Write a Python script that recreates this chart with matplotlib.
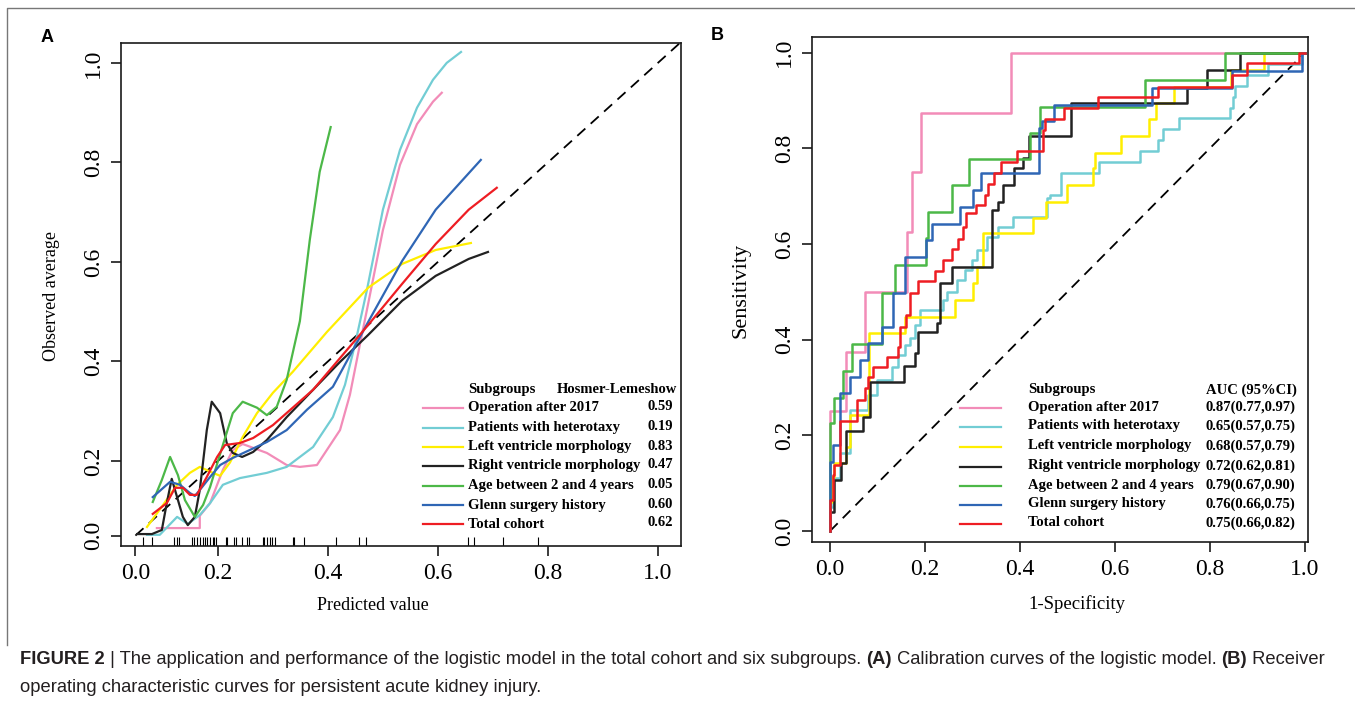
import numpy as np
import matplotlib
matplotlib.use('Agg')
import matplotlib.pyplot as plt
from matplotlib.lines import Line2D

W, H = 1355, 704
SERIF = ['Liberation Serif', 'DejaVu Serif']
SANS = ['Liberation Sans Narrow', 'Liberation Sans', 'DejaVu Sans']

# ---------------- data ----------------
subgroups = ["Operation after 2017", "Patients with heterotaxy", "Left ventricle morphology",
             "Right ventricle morphology", "Age between 2 and 4 years", "Glenn surgery history",
             "Total cohort"]
colors = ['#F28CB8', '#72CDD4', '#FFEE00', '#222222', '#4CB848', '#2F66B5', '#EE1D23']
hl_pvalues = ["0.59", "0.19", "0.83", "0.47", "0.05", "0.60", "0.62"]
auc_text = ["0.87(0.77,0.97)", "0.65(0.57,0.75)", "0.68(0.57,0.79)", "0.72(0.62,0.81)",
            "0.79(0.67,0.90)", "0.76(0.66,0.75)", "0.75(0.66,0.82)"]

# calibration curves (predicted, observed)
cal_op_x = [0.052, 0.156, 0.156, 0.181, 0.209, 0.227, 0.245, 0.289, 0.325, 0.349, 0.380, 0.422,
            0.440, 0.458, 0.471, 0.500, 0.531, 0.562, 0.591, 0.607]
cal_op_y = [0.020, 0.020, 0.053, 0.087, 0.176, 0.222, 0.234, 0.216, 0.189, 0.184, 0.189, 0.262,
            0.333, 0.433, 0.504, 0.664, 0.795, 0.877, 0.922, 0.940]
cal_het_x = [0.028, 0.059, 0.101, 0.127, 0.156, 0.181, 0.209, 0.240, 0.289, 0.325, 0.373, 0.409,
             0.431, 0.449, 0.471, 0.500, 0.531, 0.562, 0.591, 0.616, 0.642]
cal_het_y = [0.002, 0.002, 0.050, 0.031, 0.055, 0.087, 0.136, 0.154, 0.168, 0.184, 0.228, 0.288,
             0.353, 0.433, 0.544, 0.705, 0.825, 0.910, 0.966, 1.000, 1.022]
cal_lv_x = [0.028, 0.067, 0.101, 0.132, 0.156, 0.188, 0.204, 0.222, 0.245, 0.271, 0.300, 0.336,
            0.398, 0.473, 0.535, 0.596, 0.660]
cal_lv_y = [0.023, 0.082, 0.136, 0.168, 0.184, 0.168, 0.160, 0.196, 0.248, 0.296, 0.337, 0.379,
            0.459, 0.548, 0.596, 0.624, 0.638]
cal_rv_x = [0.004, 0.040, 0.064, 0.076, 0.088, 0.101, 0.115, 0.127, 0.144, 0.156, 0.173, 0.185,
            0.204, 0.216, 0.227, 0.244, 0.264, 0.289, 0.325, 0.373, 0.422, 0.473, 0.535, 0.596,
            0.656, 0.691]
cal_rv_y = [0.004, 0.004, 0.015, 0.087, 0.152, 0.103, 0.050, 0.028, 0.050, 0.122, 0.262, 0.319,
            0.296, 0.236, 0.216, 0.208, 0.218, 0.242, 0.288, 0.343, 0.399, 0.453, 0.522, 0.572,
            0.606, 0.620]
cal_age_x = [0.042, 0.064, 0.084, 0.103, 0.120, 0.144, 0.164, 0.181, 0.209, 0.227, 0.245, 0.271,
             0.289, 0.307, 0.325, 0.349, 0.367, 0.385, 0.405]
cal_age_y = [0.090, 0.149, 0.208, 0.162, 0.095, 0.050, 0.082, 0.130, 0.232, 0.296, 0.319, 0.307,
             0.292, 0.309, 0.363, 0.481, 0.644, 0.781, 0.871]
cal_glenn_x = [0.042, 0.084, 0.108, 0.132, 0.144, 0.156, 0.181, 0.204, 0.227, 0.258, 0.289, 0.325,
               0.362, 0.409, 0.473, 0.535, 0.596, 0.678]
cal_glenn_y = [0.103, 0.144, 0.136, 0.114, 0.106, 0.122, 0.157, 0.189, 0.206, 0.222, 0.238, 0.262,
               0.303, 0.349, 0.479, 0.602, 0.705, 0.805]
cal_total_x = [0.042, 0.076, 0.096, 0.115, 0.132, 0.149, 0.173, 0.198, 0.213, 0.240, 0.264, 0.300,
               0.336, 0.373, 0.473, 0.535, 0.596, 0.656, 0.707]
cal_total_y = [0.058, 0.087, 0.128, 0.128, 0.109, 0.109, 0.157, 0.208, 0.232, 0.236, 0.246, 0.272,
               0.307, 0.343, 0.473, 0.556, 0.636, 0.705, 0.749]
# rug of predicted values
rug_x = [0.018, 0.040, 0.093, 0.101, 0.105, 0.137, 0.142, 0.149, 0.156, 0.164, 0.168, 0.173,
         0.181, 0.188, 0.190, 0.195, 0.215, 0.216, 0.229, 0.233, 0.244, 0.253, 0.256, 0.282,
         0.284, 0.289, 0.295, 0.298, 0.304, 0.336, 0.338, 0.356, 0.415, 0.456, 0.469, 0.655,
         0.665, 0.718, 0.782]

# ROC curves (1-specificity, sensitivity), one point per step
roc_op_fpr = [0, 0.034, 0.074, 0.162, 0.173, 0.192, 0.381, 1.0]
roc_op_tpr = [0, 0.25, 0.375, 0.5, 0.625, 0.75, 0.875, 1.0]
roc_het_fpr = [0, 0.006, 0.021, 0.042, 0.080, 0.099, 0.131, 0.143, 0.158, 0.168, 0.179, 0.189,
               0.238, 0.246, 0.267, 0.284, 0.299, 0.309, 0.331, 0.354, 0.385, 0.457, 0.463, 0.486,
               0.566, 0.653, 0.691, 0.701, 0.735, 0.842, 0.848, 0.853, 0.878, 0.922, 0.994, 1.0]
roc_het_tpr = [0, 0.050, 0.111, 0.163, 0.253, 0.285, 0.316, 0.343, 0.368, 0.389, 0.404, 0.431,
               0.462, 0.483, 0.5, 0.525, 0.546, 0.567, 0.588, 0.615, 0.636, 0.657, 0.697, 0.703,
               0.749, 0.772, 0.795, 0.818, 0.841, 0.864, 0.885, 0.908, 0.931, 0.954, 0.977, 1.0]
roc_lv_fpr = [0, 0.004, 0.008, 0.034, 0.042, 0.082, 0.158, 0.263, 0.301, 0.309, 0.322, 0.427,
              0.455, 0.499, 0.554, 0.558, 0.613, 0.672, 0.686, 0.724, 0.844, 0.914, 1.0]
roc_lv_tpr = [0, 0.06, 0.113, 0.142, 0.176, 0.243, 0.414, 0.448, 0.483, 0.519, 0.552, 0.623,
              0.655, 0.688, 0.724, 0.759, 0.791, 0.826, 0.862, 0.895, 0.929, 0.964, 1.0]
roc_rv_fpr = [0, 0.008, 0.023, 0.034, 0.069, 0.084, 0.156, 0.179, 0.185, 0.225, 0.232, 0.257,
              0.341, 0.354, 0.364, 0.387, 0.406, 0.419, 0.507, 0.752, 0.794, 0.863, 1.0]
roc_rv_tpr = [0, 0.04, 0.107, 0.142, 0.209, 0.238, 0.312, 0.345, 0.372, 0.416, 0.435, 0.519,
              0.552, 0.672, 0.688, 0.724, 0.759, 0.780, 0.826, 0.895, 0.927, 0.964, 1.0]
roc_age_fpr = [0, 0.008, 0.027, 0.046, 0.109, 0.137, 0.202, 0.206, 0.257, 0.293, 0.421, 0.442,
               0.663, 0.832, 1.0]
roc_age_tpr = [0, 0.226, 0.278, 0.335, 0.391, 0.498, 0.556, 0.613, 0.667, 0.724, 0.778, 0.833,
               0.887, 0.944, 1.0]
roc_glenn_fpr = [0, 0.006, 0.021, 0.042, 0.063, 0.080, 0.109, 0.133, 0.158, 0.202, 0.215, 0.274,
                 0.301, 0.318, 0.440, 0.446, 0.472, 0.678, 0.846, 0.994, 1.0]
roc_glenn_tpr = [0, 0.144, 0.180, 0.289, 0.322, 0.358, 0.393, 0.427, 0.498, 0.573, 0.609, 0.642,
                 0.678, 0.713, 0.749, 0.843, 0.858, 0.891, 0.927, 0.962, 1.0]
roc_total_fpr = [0, 0.006, 0.008, 0.021, 0.057, 0.074, 0.080, 0.091, 0.120, 0.143, 0.147, 0.160,
                 0.168, 0.185, 0.221, 0.238, 0.257, 0.269, 0.280, 0.286, 0.307, 0.326, 0.333,
                 0.345, 0.360, 0.394, 0.448, 0.453, 0.493, 0.564, 0.691, 0.846, 0.878, 0.989, 1.0]
roc_total_tpr = [0, 0.065, 0.117, 0.138, 0.230, 0.274, 0.299, 0.322, 0.343, 0.364, 0.385, 0.427,
                 0.452, 0.498, 0.523, 0.544, 0.567, 0.590, 0.611, 0.636, 0.665, 0.682, 0.703,
                 0.726, 0.749, 0.772, 0.795, 0.839, 0.862, 0.885, 0.908, 0.929, 0.954, 0.979, 1.0]

cal_x = [cal_op_x, cal_het_x, cal_lv_x, cal_rv_x, cal_age_x, cal_glenn_x, cal_total_x]
cal_y = [cal_op_y, cal_het_y, cal_lv_y, cal_rv_y, cal_age_y, cal_glenn_y, cal_total_y]
roc_x = [roc_op_fpr, roc_het_fpr, roc_lv_fpr, roc_rv_fpr, roc_age_fpr, roc_glenn_fpr, roc_total_fpr]
roc_y = [roc_op_tpr, roc_het_tpr, roc_lv_tpr, roc_rv_tpr, roc_age_tpr, roc_glenn_tpr, roc_total_tpr]
ticks = [0.0, 0.2, 0.4, 0.6, 0.8, 1.0]
tick_labels = ["0.0", "0.2", "0.4", "0.6", "0.8", "1.0"]


def fx(px):
    return px / W


def fy(py):
    return 1 - py / H


# the calibration panel has its first tick interval squeezed
def _fwd(v):
    v = np.asarray(v, dtype=float)
    return np.where(v < 0.2, 0.2 - (0.2 - v) * 0.75, v)


def _inv(u):
    u = np.asarray(u, dtype=float)
    return np.where(u < 0.2, 0.2 - (0.2 - u) / 0.75, u)


fig = plt.figure(figsize=(W / 100, H / 100), dpi=100)


def style_axes(ax):
    for s in ax.spines.values():
        s.set_linewidth(1.2)
        s.set_color('#1a1a1a')
    ax.set_xticks(ticks)
    ax.set_yticks(ticks)
    ax.set_xticklabels(tick_labels, family=SERIF, fontsize=17)
    ax.set_yticklabels(tick_labels, family=SERIF, fontsize=17, rotation=90, va='center')
    ax.tick_params(direction='out', length=7, width=1.2, color='#1a1a1a', pad=5)


# ---------------- panel A ----------------
axA = fig.add_axes([fx(121), fy(546), fx(681) - fx(121), fy(43) - fy(546)])
axA.set_xscale('function', functions=(_fwd, _inv))
axA.set_yscale('function', functions=(_fwd, _inv))
axA.set_xlim(-0.035, 1.042)
axA.set_ylim(-0.028, 1.040)
axA.plot([0, 1.2], [0, 1.2], color='black', lw=1.3, linestyle=(0, (6, 4)), zorder=1)
for xs, ys, c in zip(cal_x, cal_y, colors):
    axA.plot(xs, ys, color=c, lw=1.6, solid_joinstyle='round', zorder=2)
axA.vlines(rug_x, 0, 0.017, transform=axA.get_xaxis_transform(), color='black', lw=0.8)
style_axes(axA)

# ---------------- panel B ----------------
axB = fig.add_axes([fx(812), fy(542), fx(1308) - fx(812), fy(37) - fy(542)])
axB.set_xlim(-0.038, 1.007)
axB.set_ylim(-0.023, 1.033)
axB.plot([0, 1], [0, 1], color='black', lw=1.3, linestyle=(0, (6, 4)), zorder=1)
for xs, ys, c in zip(roc_x, roc_y, colors):
    axB.plot(xs, ys, color=c, lw=1.8, drawstyle='steps-pre', zorder=2)
style_axes(axB)

# axis titles
fig.text(fx(373), fy(606), "Predicted value", family=SERIF, fontsize=13, ha='center', va='center')
fig.text(fx(52), fy(296), "Observed average", family=SERIF, fontsize=13, rotation=90,
         ha='center', va='center')
fig.text(fx(1077), fy(604), "1-Specificity", family=SERIF, fontsize=13.5, ha='center', va='center')
fig.text(fx(741), fy(290), "Sensitivity", family=SERIF, fontsize=16, rotation=90,
         ha='center', va='center')

# legends
leg_fs = 10.5
rowsA = [408, 428, 447, 466, 486, 505, 524]
fig.text(fx(468), fy(389), "Subgroups", family=SERIF, fontsize=leg_fs, weight='bold', va='center')
fig.text(fx(557), fy(389), "Hosmer-Lemeshow", family=SERIF, fontsize=leg_fs, weight='bold',
         va='center')
for yy, name, val, c in zip(rowsA, subgroups, hl_pvalues, colors):
    fig.add_artist(Line2D([fx(423), fx(463)], [fy(yy), fy(yy)], color=c, lw=1.6))
    fig.text(fx(468), fy(yy), name, family=SERIF, fontsize=leg_fs, weight='bold', va='center')
    fig.text(fx(673), fy(yy - 1), val, family=SERIF, fontsize=leg_fs, weight='bold',
             va='center', ha='right')

rowsB = [407, 426, 446, 466, 485, 504, 523]
fig.text(fx(1028), fy(390), "Subgroups", family=SERIF, fontsize=leg_fs, weight='bold', va='center')
fig.text(fx(1206), fy(390), "AUC (95%CI)", family=SERIF, fontsize=leg_fs, weight='bold',
         va='center')
for yy, name, val, c in zip(rowsB, subgroups, auc_text, colors):
    fig.add_artist(Line2D([fx(960), fx(1001)], [fy(yy + 1), fy(yy + 1)], color=c, lw=1.6))
    fig.text(fx(1028), fy(yy), name, family=SERIF, fontsize=leg_fs, weight='bold', va='center')
    fig.text(fx(1206), fy(yy), val, family=SERIF, fontsize=leg_fs, weight='bold', va='center')

# panel letters
fig.text(fx(47), fy(37), "A", family=['Liberation Sans', 'DejaVu Sans'], fontsize=13,
         weight='bold', ha='center', va='center')
fig.text(fx(717), fy(35), "B", family=['Liberation Sans', 'DejaVu Sans'], fontsize=13,
         weight='bold', ha='center', va='center')

# frame around the figure image
fig.add_artist(Line2D([fx(7), fx(7), fx(1356)], [fy(645), fy(8), fy(8)], color='#777777', lw=1.0))

# caption
line1 = [("FIGURE 2", 'bold'), (" | The application and performance of the logistic model in the "
         "total cohort and six subgroups. ", 'normal'), ("(A)", 'bold'),
         (" Calibration curves of the logistic model. ", 'normal'), ("(B)", 'bold'),
         (" Receiver", 'normal')]
line2 = [("operating characteristic curves for persistent acute kidney injury.", 'normal')]

renderer = fig.canvas.get_renderer()


def put_line(pieces, x0, y, size):
    x = x0
    arts = []
    for txt, wt in pieces:
        t = fig.text(fx(x), fy(y), txt, family=SANS, fontsize=size, weight=wt,
                     va='center', ha='left', color='#231f20')
        x += t.get_window_extent(renderer).width
        arts.append(t)
    return x - x0, arts


w0, tmp = put_line(line1, 20, 660, 12)
for t in tmp:
    t.remove()
cap_fs = 12 * (1333 - 20) / w0
put_line(line1, 20, 660, cap_fs)
put_line(line2, 20, 688, cap_fs)

fig.savefig('out.png', dpi=100)
